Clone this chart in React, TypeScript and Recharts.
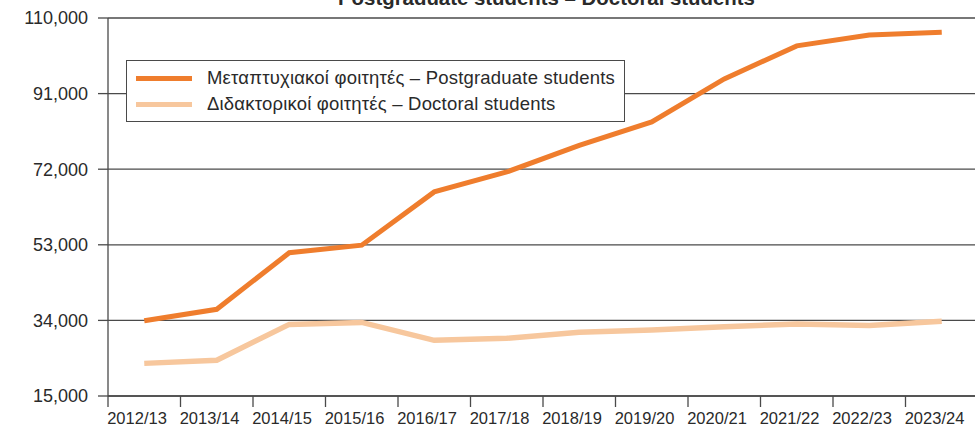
import { LineChart, Line, XAxis, YAxis, CartesianGrid } from 'recharts'

const categories = [
  '2012/13', '2013/14', '2014/15', '2015/16', '2016/17', '2017/18',
  '2018/19', '2019/20', '2020/21', '2021/22', '2022/23', '2023/24',
]
const postgraduate = [
  33900, 36800, 51000, 52900, 66300, 71300, 78000, 83900, 94700, 103000, 105700, 106400,
]
const doctoral = [
  23200, 24000, 33000, 33500, 29000, 29500, 31000, 31600, 32400, 33100, 32700, 33800,
]
const yTicks = [15000, 34000, 53000, 72000, 91000, 110000]

const ORANGE = '#ef7d2d'
const PEACH = '#f7c79d'
const INK = '#2a2a2a'
const GRID = '#4a4a4a'
const FONT = '"Liberation Sans", Arial, Helvetica, sans-serif'

// band layout: tick at each band start, point in the middle
const data = categories.map((label, i) => ({
  x: i + 0.5,
  label,
  post: postgraduate[i],
  doc: doctoral[i],
}))

const legendItems = [
  { color: ORANGE, text: 'Μεταπτυχιακοί φοιτητές – Postgraduate students' },
  { color: PEACH, text: 'Διδακτορικοί φοιτητές – Doctoral students' },
]

function LegendBox() {
  return (
    <div
      style={{
        position: 'absolute',
        left: 126,
        top: 60,
        width: 497,
        height: 56,
        border: `1.5px solid ${GRID}`,
        background: '#fff',
        paddingTop: 4,
      }}
    >
      {legendItems.map((item) => (
        <div key={item.text} style={{ display: 'flex', alignItems: 'center', height: 26 }}>
          <div style={{ width: 56, height: 5, background: item.color, marginLeft: 9, marginRight: 15, flexShrink: 0 }} />
          <span style={{ fontFamily: FONT, fontSize: 18.5, letterSpacing: 0.2, color: INK, whiteSpace: 'nowrap' }}>
            {item.text}
          </span>
        </div>
      ))}
    </div>
  )
}

function XTick({ x, y, payload }: any) {
  const i = Math.round(payload.value)
  if (i < 0 || i >= categories.length) return null
  return (
    <text x={x + 29} y={y + 15} textAnchor="middle" fontFamily={FONT} fontSize={16.5} fill={INK}>
      {categories[i]}
    </text>
  )
}

export default function App() {
  return (
    <div style={{ position: 'absolute', left: 0, top: 0, width: 975, height: 427, overflow: 'hidden', background: '#fff' }}>
      <LineChart
        width={990}
        height={427}
        data={data}
        margin={{ top: 18, right: 12, bottom: 0, left: 0 }}
      >
        <CartesianGrid horizontal vertical={false} stroke={GRID} strokeWidth={1.3} />
        <XAxis
          type="number"
          dataKey="x"
          domain={[0, 12]}
          ticks={[0, 1, 2, 3, 4, 5, 6, 7, 8, 9, 10, 11]}
          height={31}
          axisLine={{ stroke: GRID, strokeWidth: 1.3 }}
          tickLine={{ stroke: GRID, strokeWidth: 1.3 }}
          tickSize={11}
          tick={<XTick />}
          interval={0}
        />
        <YAxis
          domain={[15000, 110000]}
          ticks={yTicks}
          width={108}
          axisLine={{ stroke: GRID, strokeWidth: 1.3 }}
          tickLine={{ stroke: GRID, strokeWidth: 1.3 }}
          tickSize={10}
          tickMargin={10}
          tick={{ fontFamily: FONT, fontSize: 18, fill: INK }}
          tickFormatter={(v: number) => v.toLocaleString('en-US')}
          interval={0}
        />
        <Line
          dataKey="post"
          stroke={ORANGE}
          strokeWidth={5}
          dot={false}
          isAnimationActive={false}
        />
        <Line
          dataKey="doc"
          stroke={PEACH}
          strokeWidth={5.5}
          dot={false}
          isAnimationActive={false}
        />
      </LineChart>
      <LegendBox />
      <div
        style={{
          position: 'absolute',
          left: 0,
          width: 1093,
          top: -13,
          textAlign: 'center',
          fontFamily: FONT,
          fontWeight: 'bold',
          fontSize: 20.4,
          color: INK,
          whiteSpace: 'nowrap',
        }}
      >
        Postgraduate students – Doctoral students
      </div>
    </div>
  )
}
